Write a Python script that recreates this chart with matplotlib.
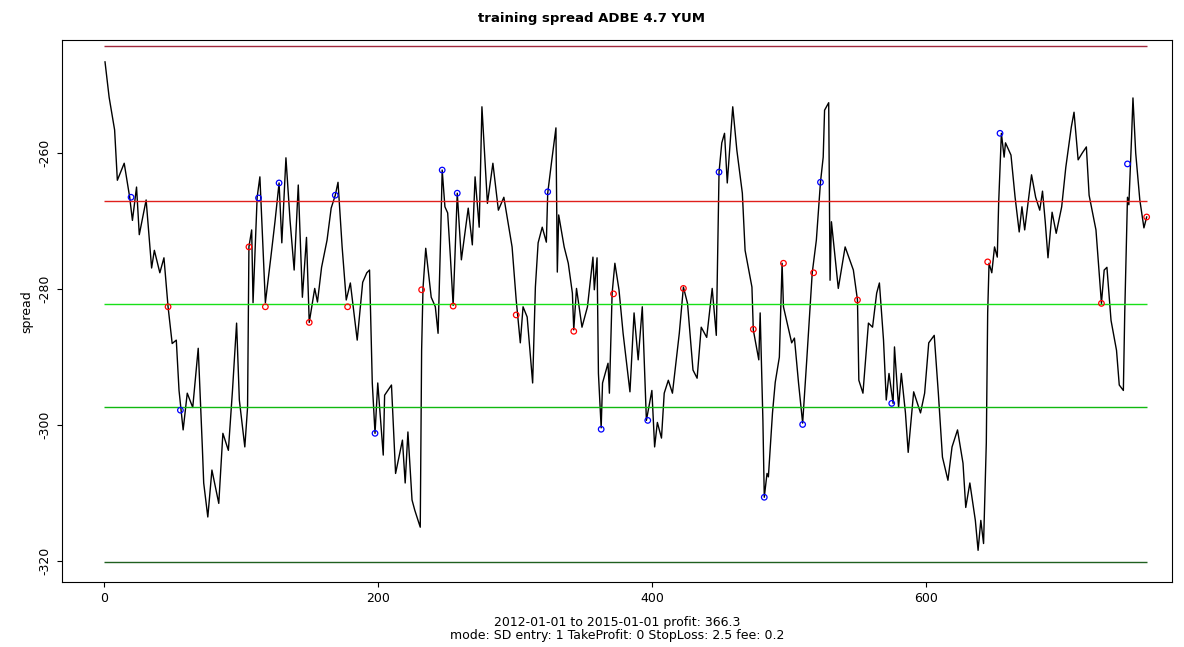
import matplotlib.pyplot as plt

plt.rcParams['axes.unicode_minus'] = False

# spread series (index, value)
idx = [1, 4, 8, 10, 15, 19, 21, 24, 26, 31, 35, 37, 41, 44, 47, 50, 53, 55, 58, 61,
       65, 69, 72, 73, 76, 79, 84, 87, 91, 94, 97, 99, 103, 105, 106, 108, 109, 112, 114, 118,
       122, 125, 128, 130, 133, 136, 139, 142, 145, 148, 150, 154, 156, 159, 163, 166, 169, 171, 174, 177,
       180, 185, 189, 192, 194, 196, 198, 200, 204, 205, 210, 213, 218, 220, 222, 225, 227, 231, 232, 233,
       235, 237, 239, 242, 244, 246, 247, 249, 251, 253, 255, 258, 261, 266, 269, 271, 274, 276, 280, 284,
       288, 292, 298, 301, 304, 306, 309, 313, 315, 317, 320, 323, 324, 327, 330, 331, 332, 336, 339, 342,
       343, 345, 349, 353, 357, 358, 360, 361, 363, 364, 368, 369, 371, 373, 376, 379, 384, 387, 390, 393,
       396, 400, 402, 404, 407, 409, 412, 415, 420, 423, 426, 430, 433, 436, 440, 444, 447, 449, 451, 453,
       455, 459, 462, 466, 468, 473, 474, 478, 479, 481, 482, 484, 485, 488, 490, 493, 495, 496, 502, 504,
       507, 510, 513, 517, 520, 523, 525, 526, 529, 530, 531, 536, 541, 547, 550, 551, 554, 558, 561, 564,
       566, 569, 571, 573, 576, 577, 580, 582, 585, 587, 591, 596, 599, 602, 606, 609, 612, 616, 619, 623,
       627, 629, 632, 636, 638, 640, 642, 644, 645, 646, 648, 650, 652, 653, 655, 657, 658, 662, 665, 668,
       670, 672, 674, 677, 680, 683, 685, 687, 689, 692, 695, 699, 702, 706, 708, 711, 714, 717, 719, 724,
       728, 730, 732, 735, 739, 741, 744, 745, 747, 748, 750, 751, 753, 756, 759, 761]
spread = [-246.6, -251.8, -256.6, -264.0, -261.5, -266.5, -269.9, -265.0, -272.0, -266.9,
          -276.9, -274.3, -277.6, -275.4, -282.6, -288.0, -287.5, -294.9, -300.7, -295.3,
          -297.4, -288.7, -303.2, -308.5, -313.5, -306.6, -311.5, -301.2, -303.7, -294.9,
          -285.0, -296.3, -303.2, -297.4, -273.8, -271.3, -282.0, -266.5, -263.5, -282.0,
          -275.3, -270.1, -264.4, -273.2, -260.7, -269.9, -277.2, -264.7, -281.2, -272.4,
          -284.9, -279.9, -281.9, -276.8, -272.8, -268.1, -266.2, -264.3, -273.8, -281.6,
          -279.1, -287.5, -279.0, -277.6, -277.2, -293.8, -301.2, -293.8, -304.4, -295.6,
          -294.1, -307.1, -302.2, -308.5, -301.0, -311.0, -312.5, -315.0, -289.0, -279.9,
          -274.0, -277.6, -281.2, -282.6, -286.5, -271.3, -262.5, -267.9, -268.8, -275.3,
          -282.4, -265.9, -275.7, -268.1, -273.5, -263.5, -270.9, -253.2, -267.4, -261.5,
          -268.4, -266.5, -273.8, -281.6, -287.9, -282.6, -284.1, -293.8, -279.7, -273.2,
          -270.9, -273.1, -265.9, -261.0, -256.3, -277.5, -269.1, -273.8, -276.2, -280.6,
          -286.0, -279.9, -285.6, -282.6, -275.3, -280.1, -275.4, -292.4, -300.4, -293.8,
          -290.9, -295.3, -280.6, -276.2, -280.1, -286.5, -295.1, -283.5, -290.4, -282.6,
          -299.3, -294.9, -303.2, -299.6, -301.9, -295.3, -293.4, -295.3, -286.5, -279.7,
          -282.1, -291.9, -293.1, -285.6, -287.1, -279.9, -286.8, -262.8, -258.5, -257.1,
          -264.4, -253.2, -259.6, -265.9, -274.3, -279.7, -286.0, -290.4, -283.5, -299.3,
          -310.6, -307.1, -307.6, -298.2, -293.7, -290.0, -276.2, -282.6, -287.9, -287.2,
          -293.8, -299.7, -290.4, -277.6, -272.8, -264.3, -260.6, -253.7, -252.6, -278.7,
          -270.1, -279.9, -273.8, -277.2, -281.6, -293.4, -295.3, -285.0, -285.6, -280.6,
          -279.1, -287.5, -296.3, -292.4, -296.8, -288.5, -297.4, -292.4, -298.2, -304.0,
          -295.1, -298.2, -295.3, -287.9, -286.8, -295.3, -304.7, -308.1, -303.2, -300.7,
          -305.6, -312.1, -308.5, -314.0, -318.4, -314.0, -317.4, -302.6, -283.5, -276.2,
          -277.6, -273.8, -275.3, -267.4, -257.1, -260.6, -258.5, -260.3, -266.5, -271.6,
          -267.9, -271.3, -268.1, -263.2, -266.5, -268.4, -265.6, -270.1, -275.4, -268.7,
          -271.8, -267.9, -262.1, -256.2, -254.0, -261.0, -260.0, -259.1, -266.2, -271.3,
          -282.1, -277.2, -276.8, -284.6, -289.0, -294.1, -294.9, -283.5, -266.5, -267.6,
          -257.6, -251.9, -260.0, -266.9, -271.0, -269.4]

entry_idx = [20, 56, 113, 128, 169, 198, 247, 258, 324, 363, 397, 449, 482, 510, 523, 575, 654, 747]
entry_val = [-266.5, -297.8, -266.6, -264.4, -266.2, -301.2, -262.5, -265.9, -265.7, -300.6,
             -299.3, -262.8, -310.6, -299.9, -264.3, -296.8, -257.1, -261.6]
exit_idx = [47, 106, 118, 150, 178, 232, 255, 301, 343, 372, 423, 474, 496, 518, 550, 645, 728, 761]
exit_val = [-282.6, -273.8, -282.6, -284.9, -282.6, -280.1, -282.5, -283.8, -286.2, -280.7,
            -279.9, -285.9, -276.2, -277.6, -281.6, -276.0, -282.1, -269.4]

# mean, +-1 sd, +-2.5 sd
levels = [-244.3, -267.05, -282.2, -297.35, -320.1]
level_colors = ['#a0283c', '#e0201c', '#18e018', '#10b810', '#206020']

fig = plt.figure(figsize=(11.84, 6.47), dpi=100)
ax = fig.add_axes([0.052, 0.10, 0.938, 0.838])

ax.plot(idx, spread, color='black', lw=1)
for lv, c in zip(levels, level_colors):
    ax.hlines(lv, 0, 761, color=c, lw=1)
ax.scatter(entry_idx, entry_val, s=16, facecolors='none', edgecolors='blue', lw=0.9, zorder=3)
ax.scatter(exit_idx, exit_val, s=16, facecolors='none', edgecolors='red', lw=0.9, zorder=3)

ax.set_xlim(-30.7, 779.6)
ax.set_ylim(-323.1, -243.4)
ax.set_xticks([0, 200, 400, 600])
ax.set_yticks([-320, -300, -280, -260])
ax.tick_params(axis='y', labelrotation=90, labelsize=9)
ax.tick_params(axis='x', labelsize=9)
for t in ax.get_yticklabels():
    t.set_va('center')
ax.set_ylabel('spread', fontsize=9)
ax.set_xlabel('2012-01-01 to 2015-01-01 profit: 366.3\nmode: SD entry: 1 TakeProfit: 0 StopLoss: 2.5 fee: 0.2',
              fontsize=9, labelpad=8, linespacing=1.0)
fig.suptitle('training spread ADBE 4.7 YUM', fontsize=9.5, fontweight='bold', y=0.982)

fig.savefig('out.png', dpi=100)
